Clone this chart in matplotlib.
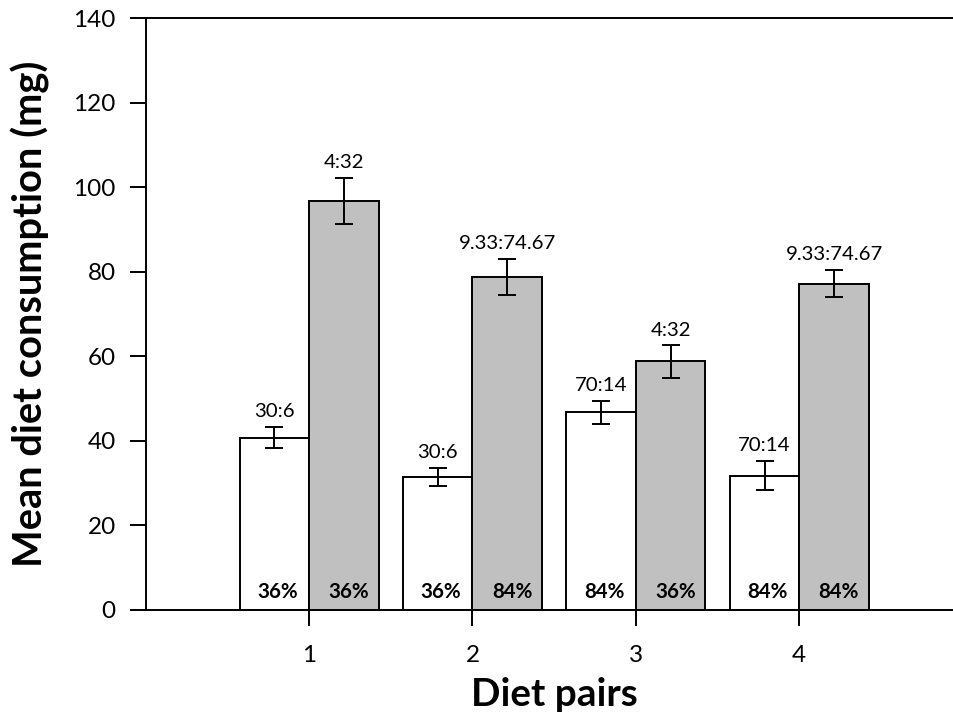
import matplotlib
matplotlib.use("Agg")
import matplotlib.pyplot as plt
import numpy as np

# Diet pair data: mean consumption (mg) and error for each diet of the pair
pairs = [1, 2, 3, 4]
first_mean = [40.8, 31.5, 46.8, 31.8]
first_err = [2.5, 2.1, 2.7, 3.5]
second_mean = [96.8, 78.8, 58.8, 77.2]
second_err = [5.4, 4.2, 3.8, 3.2]
first_ratio = ["30:6", "30:6", "70:14", "70:14"]
second_ratio = ["4:32", "9.33:74.67", "4:32", "9.33:74.67"]
first_pct = ["36%", "36%", "84%", "84%"]
second_pct = ["36%", "84%", "36%", "84%"]

plt.rcParams["font.family"] = ["Lato", "DejaVu Sans"]

fig = plt.figure(figsize=(9.54, 7.19), dpi=100)
ax = fig.add_axes([0.1527, 0.1516, 0.8564, 0.8230])

x = np.array(pairs, dtype=float)
w = 0.425
lw = 1.4

ax.bar(x - w / 2, first_mean, width=w, color="white", edgecolor="black",
       linewidth=lw, zorder=2)
ax.bar(x + w / 2, second_mean, width=w, color="#c0c0c0", edgecolor="black",
       linewidth=lw, zorder=2)

err_kw = dict(fmt="none", ecolor="black", elinewidth=1.4, capsize=6.2,
              capthick=1.4, zorder=3)
ax.errorbar(x - w / 2, first_mean, yerr=first_err, **err_kw)
ax.errorbar(x + w / 2, second_mean, yerr=second_err, **err_kw)

# Ratio labels above the error bars
for xi, m, e, t in zip(x - w / 2, first_mean, first_err, first_ratio):
    ax.text(xi, m + e + 1.6, t, ha="center", va="bottom", fontsize=14.7)
for xi, m, e, t in zip(x + w / 2, second_mean, second_err, second_ratio):
    ax.text(xi, m + e + 1.6, t, ha="center", va="bottom", fontsize=14.7)

# Percentage labels at the base of each bar
for xi, t in zip(x - w / 2, first_pct):
    ax.text(xi + 0.02, 1.8, t, ha="center", va="bottom", fontsize=14.8,
            fontweight="bold", zorder=4)
for xi, t in zip(x + w / 2, second_pct):
    ax.text(xi + 0.03, 1.8, t, ha="center", va="bottom", fontsize=14.8,
            fontweight="bold", zorder=4)

ax.set_xlim(0, 5)
ax.set_ylim(0, 140)
ax.set_xticks(pairs)
ax.set_yticks(np.arange(0, 141, 20))

for s in ax.spines.values():
    s.set_linewidth(1.4)

ax.tick_params(axis="x", direction="out", length=11.5, width=1.4, pad=14,
               labelsize=17.5)
ax.tick_params(axis="y", direction="out", length=11.5, width=1.4, pad=10,
               labelsize=17.5)

ax.set_ylabel("Mean diet consumption (mg)", fontsize=28.7, fontweight="bold")
ax.set_xlabel("Diet pairs", fontsize=27.9, fontweight="bold")
ax.yaxis.set_label_coords(-0.117, 0.5)
ax.xaxis.set_label_coords(0.5, -0.113)

fig.savefig("out.png", dpi=100)
